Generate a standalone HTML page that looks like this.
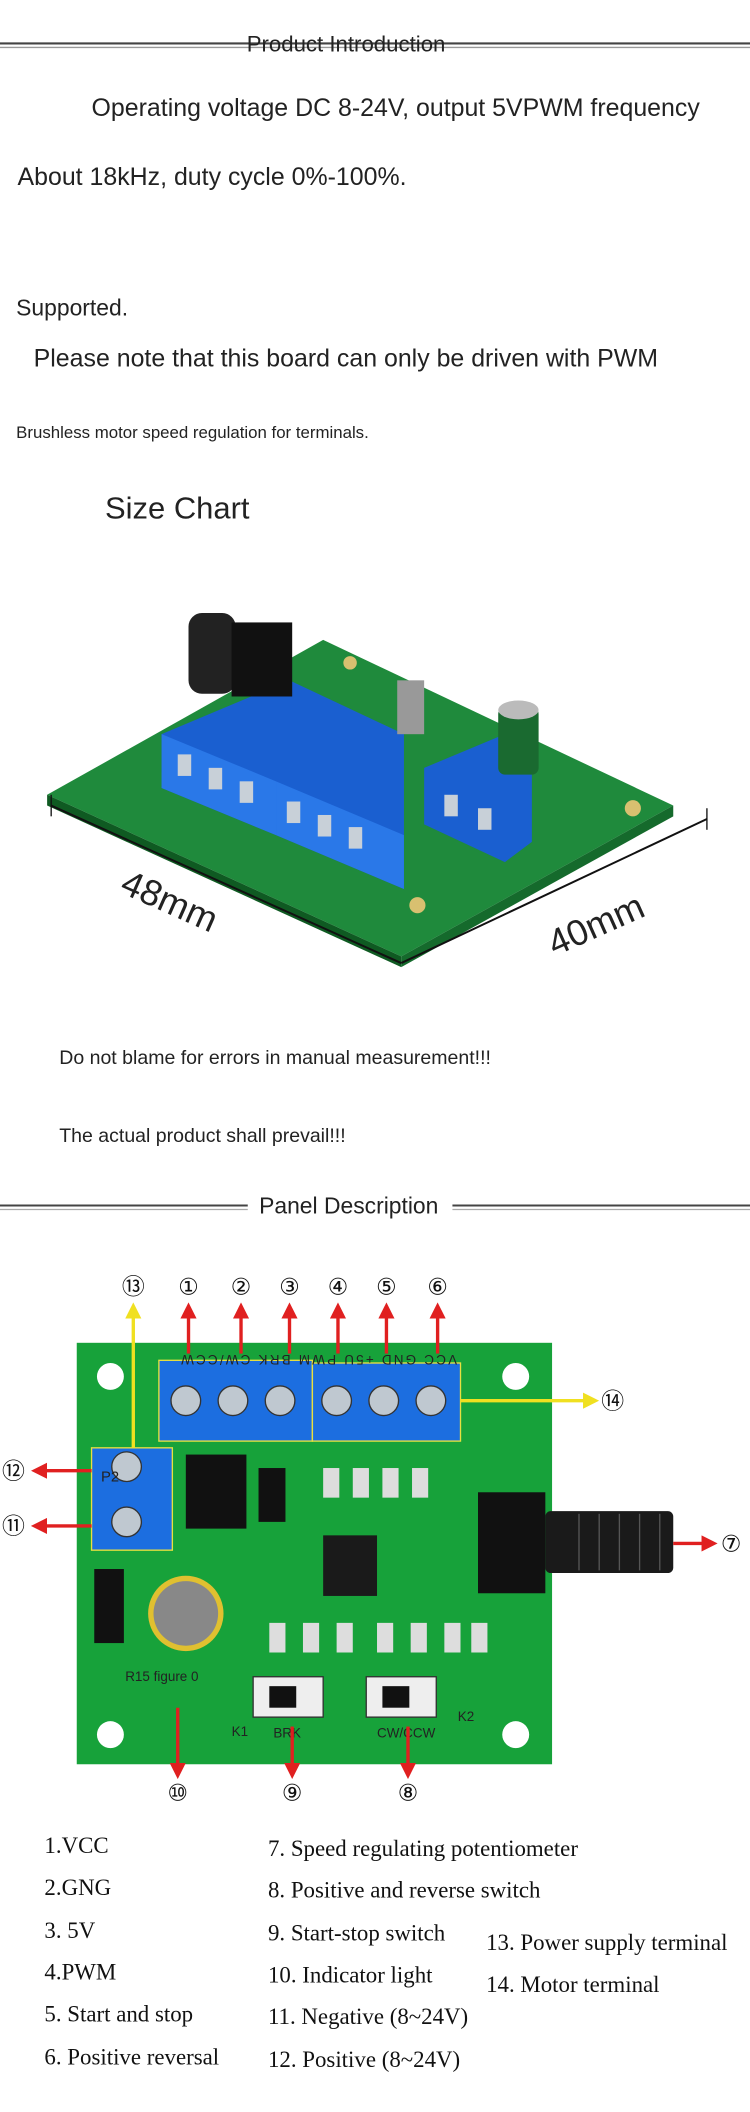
<!DOCTYPE html>
<html><head><meta charset="utf-8"><style>
html,body{margin:0;padding:0;background:#fff;}
svg{display:block;}
.s{font-family:"Liberation Sans",sans-serif;fill:#222;}
.r{font-family:"Liberation Serif",serif;fill:#111;font-size:17px;}
.c{font-family:"DejaVu Sans","Liberation Sans",sans-serif;font-size:17px;fill:#111;text-anchor:middle;}
</style></head><body>
<svg width="750" height="2112" viewBox="0 0 557 1568" xmlns="http://www.w3.org/2000/svg">
<defs>
<marker id="ar" markerUnits="userSpaceOnUse" markerWidth="12" markerHeight="12" refX="9" refY="6" orient="auto"><path d="M0,0 L12,6 L0,12 z" fill="#e02020"/></marker>
<marker id="ay" markerUnits="userSpaceOnUse" markerWidth="12" markerHeight="12" refX="9" refY="6" orient="auto"><path d="M0,0 L12,6 L0,12 z" fill="#f0e020"/></marker>
</defs>
<rect width="557" height="1568" fill="#fff"/>
<!-- header -->
<line x1="0" y1="32" x2="557" y2="32" stroke="#444" stroke-width="1.5"/>
<line x1="0" y1="35" x2="557" y2="35" stroke="#999" stroke-width="1"/>
<text x="257" y="38" class="s" font-size="16.5" text-anchor="middle" fill="#000">Product Introduction</text>
<text x="68" y="86" class="s" font-size="18.5">Operating voltage DC 8-24V, output 5VPWM frequency</text>
<text x="13" y="137" class="s" font-size="18.5">About 18kHz, duty cycle 0%-100%.</text>
<text x="12" y="234" class="s" font-size="17">Supported.</text>
<text x="25" y="272" class="s" font-size="18.5">Please note that this board can only be driven with PWM</text>
<text x="12" y="325" class="s" font-size="12.5">Brushless motor speed regulation for terminals.</text>
<text x="78" y="385" class="s" font-size="23">Size Chart</text>
<!-- 3D board -->
<polygon points="35,590 240,475 500,598 298,710" fill="#1f8a3c"/>
<polygon points="35,590 298,710 298,718 35,598" fill="#0f5a22"/>
<polygon points="298,710 500,598 500,606 298,718" fill="#156a2c"/>
<circle cx="310" cy="672" r="6" fill="#d8c070"/><circle cx="470" cy="600" r="6" fill="#d8c070"/><circle cx="260" cy="492" r="5" fill="#d8c070"/>
<polygon points="120,545 215,505 300,545 300,660 205,620 120,585" fill="#1a5fd0"/>
<polygon points="120,545 205,580 205,620 120,585" fill="#2a78e8"/>
<polygon points="205,580 300,620 300,660 205,620" fill="#2a78e8"/>
<polygon points="315,570 375,545 395,565 395,625 375,640 315,612" fill="#1a5fd0"/>
<g fill="#c8d0d8">
<rect x="132" y="560" width="10" height="16"/><rect x="155" y="570" width="10" height="16"/><rect x="178" y="580" width="10" height="16"/>
<rect x="213" y="595" width="10" height="16"/><rect x="236" y="605" width="10" height="16"/><rect x="259" y="614" width="10" height="16"/>
<rect x="330" y="590" width="10" height="16"/><rect x="355" y="600" width="10" height="16"/>
</g>
<rect x="140" y="455" width="35" height="60" rx="10" fill="#222"/>
<rect x="172" y="462" width="45" height="55" fill="#111"/>
<rect x="295" y="505" width="20" height="40" fill="#999"/>
<rect x="370" y="525" width="30" height="50" rx="5" fill="#1a6a30"/>
<ellipse cx="385" cy="527" rx="15" ry="7" fill="#bbb"/>
<!-- dims -->
<line x1="38" y1="598" x2="298" y2="715" stroke="#111" stroke-width="1.5"/>
<line x1="298" y1="715" x2="525" y2="608" stroke="#111" stroke-width="1.5"/>
<line x1="38" y1="590" x2="38" y2="606" stroke="#111"/><line x1="525" y1="600" x2="525" y2="616" stroke="#111"/>
<text transform="translate(88,662) rotate(24)" class="s" font-size="27" fill="#111">48mm</text>
<text transform="translate(412,710) rotate(-24)" class="s" font-size="27" fill="#111">40mm</text>
<text x="44" y="790" class="s" font-size="14.5">Do not blame for errors in manual measurement!!!</text>
<text x="44" y="848" class="s" font-size="14.5">The actual product shall prevail!!!</text>
<!-- panel header -->
<line x1="0" y1="895" x2="557" y2="895" stroke="#444" stroke-width="1.5"/>
<line x1="0" y1="898" x2="557" y2="898" stroke="#aaa" stroke-width="1"/>
<rect x="184" y="885" width="152" height="20" fill="#fff"/>
<text x="259" y="901" class="s" font-size="17" text-anchor="middle" fill="#000">Panel Description</text>
<!-- PCB -->
<rect x="57" y="997" width="353" height="313" fill="#17a23a"/>
<g fill="#fff"><circle cx="82" cy="1022" r="10"/><circle cx="383" cy="1022" r="10"/><circle cx="82" cy="1288" r="10"/><circle cx="383" cy="1288" r="10"/></g>
<rect x="118" y="1010" width="114" height="60" fill="#1c6ee0" stroke="#e8e040"/>
<rect x="232" y="1012" width="110" height="58" fill="#1c6ee0" stroke="#e8e040"/>
<g fill="#bfc8d0" stroke="#333">
<circle cx="138" cy="1040" r="11"/><circle cx="173" cy="1040" r="11"/><circle cx="208" cy="1040" r="11"/>
<circle cx="250" cy="1040" r="11"/><circle cx="285" cy="1040" r="11"/><circle cx="320" cy="1040" r="11"/>
</g>
<rect x="68" y="1075" width="60" height="76" fill="#1c6ee0" stroke="#e8e040"/>
<g fill="#bfc8d0" stroke="#333"><circle cx="94" cy="1089" r="11"/><circle cx="94" cy="1130" r="11"/></g>
<rect x="138" y="1080" width="45" height="55" fill="#111"/>
<rect x="192" y="1090" width="20" height="40" fill="#111"/>
<rect x="240" y="1140" width="40" height="45" fill="#1a1a1a"/>
<rect x="70" y="1165" width="22" height="55" fill="#111"/>
<circle cx="138" cy="1198" r="28" fill="#e0c030"/><circle cx="138" cy="1198" r="24" fill="#888"/>
<rect x="355" y="1108" width="50" height="75" fill="#111"/>
<rect x="405" y="1122" width="95" height="46" rx="4" fill="#1a1a1a"/>
<g stroke="#555"><line x1="430" y1="1124" x2="430" y2="1166"/><line x1="445" y1="1124" x2="445" y2="1166"/><line x1="460" y1="1124" x2="460" y2="1166"/><line x1="475" y1="1124" x2="475" y2="1166"/><line x1="490" y1="1124" x2="490" y2="1166"/></g>
<rect x="188" y="1245" width="52" height="30" fill="#eee" stroke="#333"/><rect x="200" y="1252" width="20" height="16" fill="#111"/>
<rect x="272" y="1245" width="52" height="30" fill="#eee" stroke="#333"/><rect x="284" y="1252" width="20" height="16" fill="#111"/>
<g fill="#ddd"><rect x="240" y="1090" width="12" height="22"/><rect x="262" y="1090" width="12" height="22"/><rect x="284" y="1090" width="12" height="22"/><rect x="306" y="1090" width="12" height="22"/><rect x="200" y="1205" width="12" height="22"/><rect x="225" y="1205" width="12" height="22"/><rect x="250" y="1205" width="12" height="22"/><rect x="280" y="1205" width="12" height="22"/><rect x="305" y="1205" width="12" height="22"/><rect x="330" y="1205" width="12" height="22"/><rect x="350" y="1205" width="12" height="22"/></g>
<g class="s" font-size="10" fill="#fff">
<text x="93" y="1248">R15 figure 0</text><text x="203" y="1290">BRK</text><text x="280" y="1290">CW/CCW</text>
<text x="172" y="1289">K1</text><text x="340" y="1278">K2</text><text x="75" y="1100" font-size="11">P2</text>
<text x="237" y="1000" text-anchor="middle" textLength="205" transform="rotate(180 237 1003)">VCC GND +5U PWM BRK CW/CCW</text>
</g>
<!-- arrows -->
<g stroke="#e02020" stroke-width="2.5" fill="none">
<line x1="140" y1="1005" x2="140" y2="970" marker-end="url(#ar)"/>
<line x1="179" y1="1005" x2="179" y2="970" marker-end="url(#ar)"/>
<line x1="215" y1="1005" x2="215" y2="970" marker-end="url(#ar)"/>
<line x1="251" y1="1005" x2="251" y2="970" marker-end="url(#ar)"/>
<line x1="287" y1="1005" x2="287" y2="970" marker-end="url(#ar)"/>
<line x1="325" y1="1005" x2="325" y2="970" marker-end="url(#ar)"/>
<line x1="68" y1="1092" x2="26" y2="1092" marker-end="url(#ar)"/>
<line x1="68" y1="1133" x2="26" y2="1133" marker-end="url(#ar)"/>
<line x1="500" y1="1146" x2="530" y2="1146" marker-end="url(#ar)"/>
<line x1="132" y1="1268" x2="132" y2="1318" marker-end="url(#ar)"/>
<line x1="217" y1="1282" x2="217" y2="1318" marker-end="url(#ar)"/>
<line x1="303" y1="1282" x2="303" y2="1318" marker-end="url(#ar)"/>
</g>
<g stroke="#f0e020" stroke-width="2.5" fill="none">
<line x1="99" y1="1075" x2="99" y2="970" marker-end="url(#ay)"/>
<line x1="342" y1="1040" x2="442" y2="1040" marker-end="url(#ay)"/>
</g>
<g class="c">
<text x="99" y="961">⑬</text><text x="140" y="961">①</text><text x="179" y="961">②</text><text x="215" y="961">③</text><text x="251" y="961">④</text><text x="287" y="961">⑤</text><text x="325" y="961">⑥</text>
<text x="455" y="1046">⑭</text><text x="10" y="1098">⑫</text><text x="10" y="1139">⑪</text><text x="543" y="1152">⑦</text>
<text x="132" y="1337">⑩</text><text x="217" y="1337">⑨</text><text x="303" y="1337">⑧</text>
</g>
<!-- legend -->
<g class="r">
<text x="33" y="1376">1.VCC</text><text x="33" y="1407">2.GNG</text><text x="33" y="1439">3. 5V</text><text x="33" y="1470">4.PWM</text><text x="33" y="1501">5. Start and stop</text><text x="33" y="1533">6. Positive reversal</text>
<text x="199" y="1378">7. Speed regulating potentiometer</text><text x="199" y="1409">8. Positive and reverse switch</text><text x="199" y="1441">9. Start-stop switch</text><text x="199" y="1472">10. Indicator light</text><text x="199" y="1503">11. Negative (8~24V)</text><text x="199" y="1535">12. Positive (8~24V)</text>
<text x="361" y="1448">13. Power supply terminal</text><text x="361" y="1479">14. Motor terminal</text>
</g>
</svg>
</body></html>
